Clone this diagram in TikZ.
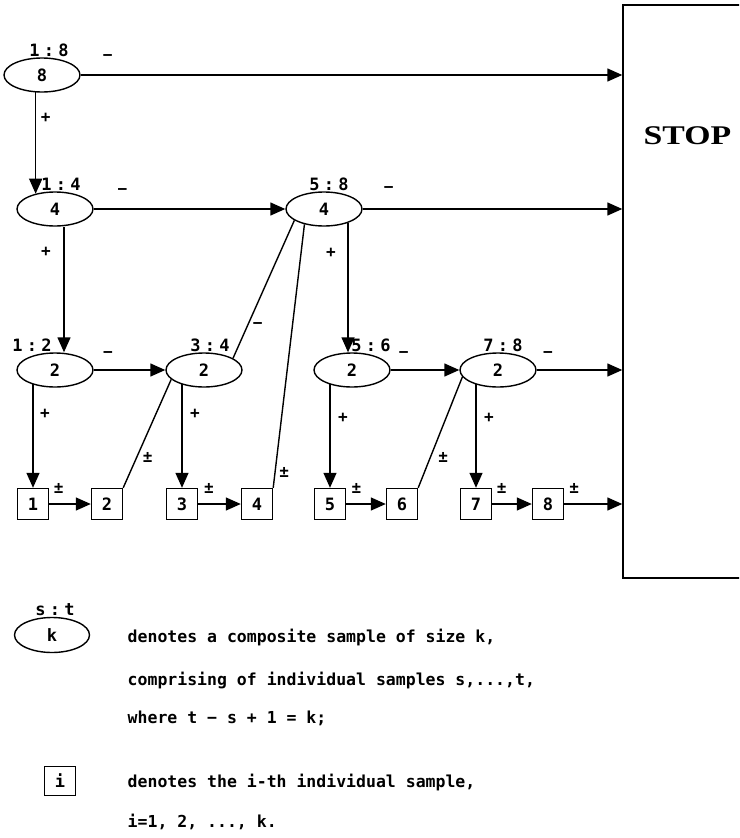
\documentclass[tikz,border=0pt]{standalone}
\usepackage{fontspec}
\setmainfont{DejaVu Sans Mono}
\newfontfamily\tagfont[LetterSpace=25]{DejaVu Sans Mono}
\newfontfamily\stopfont[FakeStretch=1.25]{Liberation Serif}
\usetikzlibrary{arrows.meta,shapes.geometric}

\begin{document}
\begin{tikzpicture}[
    x=1pt, y=-1pt,
    >={Triangle[length=15pt,width=13pt]},
    line width=1.4pt,
    comp/.style={ellipse, draw=black, minimum width=76pt, minimum height=34pt, inner sep=0pt,
        font=\fontsize{17}{19}\selectfont\bfseries, label distance=6pt},
    indiv/.style={rectangle, draw=black, minimum width=31pt, minimum height=31pt, inner sep=0pt,
        font=\fontsize{17}{19}\selectfont\bfseries},
    tag/.style={font=\fontsize{17}{19}\selectfont\tagfont\bfseries, inner sep=0pt},
    sign/.style={font=\fontsize{16}{18}\selectfont\bfseries, inner sep=0pt},
    note/.style={font=\fontsize{16.5}{19}\selectfont\bfseries, inner sep=0pt, anchor=base west},
    stopbox/.style={rectangle, draw=black, minimum width=160pt, minimum height=573pt, inner sep=0pt}
]
    \useasboundingbox (0,0) rectangle (739,838);
    \clip (0,0) rectangle (739,838);

    \node[stopbox] (stop) at (703,291.5) {};
    \node[font=\fontsize{27}{30}\selectfont\stopfont\bfseries, inner sep=0pt, anchor=west] (stoptext) at (643,136) {STOP};

    \node[comp, label={[tag, xshift=7pt]above:{1:8}}] (s18) at (42,75) {8};
    \node[comp, label={[tag, xshift=6pt]above:{1:4}}] (s14) at (55,209) {4};
    \node[comp, label={[tag, xshift=5pt]above:{5:8}}] (s58) at (324,209) {4};
    \node[comp, label={[tag, xshift=-23pt]above:{1:2}}] (s12) at (55,370) {2};
    \node[comp, label={[tag, xshift=6pt]above:{3:4}}] (s34) at (204,370) {2};
    \node[comp, label={[tag, xshift=19pt]above:{5:6}}] (s56) at (352,370) {2};
    \node[comp, label={[tag, xshift=5pt]above:{7:8}}] (s78) at (498,370) {2};

    \node[indiv] (u1) at (33,504) {1};
    \node[indiv] (u2) at (107,504) {2};
    \node[indiv] (u3) at (182,504) {3};
    \node[indiv] (u4) at (257,504) {4};
    \node[indiv] (u5) at (330,504) {5};
    \node[indiv] (u6) at (402,504) {6};
    \node[indiv] (u7) at (476,504) {7};
    \node[indiv] (u8) at (548,504) {8};

    \draw[->] (s18.east) -- node[sign, pos=0.05, yshift=17pt] {−} (s18.east -| stop.west);
    \draw[->] (s18.250) -- node[sign, pos=0.25, xshift=10pt] {+} (s18.250 |- s14.142);
    \draw[->] (s14.east) -- node[sign, pos=0.15, yshift=17pt] {−} (s58.west);
    \draw[->] (s58.east) -- node[sign, pos=0.1, yshift=19pt] {−} (s58.east -| stop.west);
    \draw[->] ([xshift=9pt]s14.south) -- node[sign, pos=0.2, xshift=-18pt] {+} ([xshift=9pt]s12.north);
    \draw[->] (s58.-30) -- node[sign, pos=0.23, xshift=-17pt] {+} (s58.-30 |- s56.north);

    \draw[->] (s12.east) -- node[sign, pos=0.2, yshift=15pt] {−} (s34.west);
    \draw[->] (s56.east) -- node[sign, pos=0.19, yshift=15pt] {−} (s78.west);
    \draw[->] (s78.east) -- node[sign, pos=0.13, yshift=15pt] {−} (s78.east -| stop.west);
    \draw (s34.22) -- node[sign, pos=0.24, xshift=10pt] {−} (s58.201);

    \draw[->] (u1.north |- s12.213) -- node[sign, pos=0.28, xshift=12pt] {+} (u1.north);
    \draw[->] (u3.north |- s34.213) -- node[sign, pos=0.28, xshift=13pt] {+} (u3.north);
    \draw[->] (u5.north |- s56.213) -- node[sign, pos=0.32, xshift=13pt] {+} (u5.north);
    \draw[->] (u7.north |- s78.213) -- node[sign, pos=0.32, xshift=13pt] {+} (u7.north);

    \draw[->] (u1.east) -- node[sign, pos=0.23, yshift=16pt] {±} (u2.west);
    \draw[->] (u3.east) -- node[sign, pos=0.25, yshift=16pt] {±} (u4.west);
    \draw[->] (u5.east) -- node[sign, pos=0.26, yshift=16pt] {±} (u6.west);
    \draw[->] (u7.east) -- node[sign, pos=0.24, yshift=16pt] {±} (u8.west);
    \draw[->] (u8.east) -- node[sign, pos=0.17, yshift=16pt] {±} (u8.east -| stop.west);

    \draw (u2.north east) -- node[sign, pos=0.28, xshift=11pt] {±} (s34.196);
    \draw (u4.north east) -- node[sign, pos=0.06, xshift=9pt] {±} (s58.218);
    \draw (u6.north east) -- node[sign, pos=0.27, xshift=13pt] {±} (s78.191);

    \node[comp, minimum width=75pt, minimum height=35pt, label={[tag, xshift=3pt]above:{s:t}}] (keyell) at (52,635) {k};
    \node[indiv, minimum height=29pt] (keybox) at (60,781) {i};

    \node[note] (txt1) at (127,642) {denotes a composite sample of size k,};
    \node[note] (txt2) at (127,685) {comprising of individual samples s,...,t,};
    \node[note] (txt3) at (127,723) {where t − s + 1 = k;};
    \node[note] (txt4) at (127,787) {denotes the i-th individual sample,};
    \node[note] (txt5) at (127,827) {i=1, 2, ..., k.};
\end{tikzpicture}
\end{document}
